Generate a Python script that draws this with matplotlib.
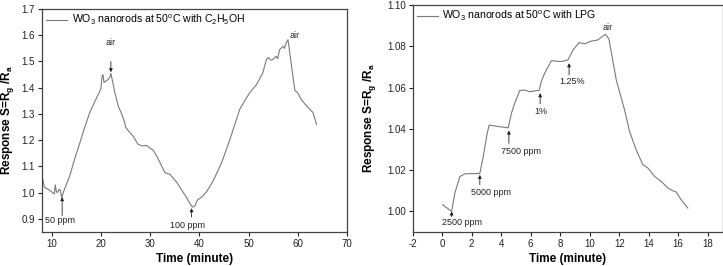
import matplotlib
matplotlib.use("Agg")
import matplotlib.pyplot as plt

plt.rcParams['font.family'] = ['Liberation Sans', 'DejaVu Sans']
plt.rcParams['mathtext.fontset'] = 'custom'
plt.rcParams['mathtext.rm'] = 'Liberation Sans'
plt.rcParams['axes.unicode_minus'] = False

# ---- Left panel: C2H5OH ----
eth_time = [8.0, 8.5, 9.5, 10.5, 10.7, 10.9, 11.1, 11.5, 11.7, 12.0, 12.5, 13.65, 14.5, 15.7, 16.7,
            17.7, 18.8, 19.75, 20.0, 20.2, 20.4, 20.6, 21.4, 21.8, 22.0, 22.4, 22.8, 23.5, 24.2, 24.8,
            25.0, 25.6, 26.5, 27.5, 28.3, 29.2, 30.6, 31.3, 32.0, 33.0, 34.0, 35.4, 36.4, 37.4, 38.0,
            38.6, 39.1, 39.6, 40.6, 41.5, 42.8, 44.5, 45.4, 46.2, 47.2, 48.2, 49.2, 50.2, 51.6, 52.9,
            53.6, 54.0, 54.5, 54.9, 55.6, 55.9, 56.3, 57.0, 57.3, 57.6, 58.0, 58.5, 59.0, 59.4, 60.0,
            60.7, 61.8, 63.1, 63.8]
eth_resp = [1.064, 1.02, 1.01, 0.995, 1.03, 1.005, 1.0, 1.013, 1.01, 0.981, 1.01, 1.064, 1.12, 1.19, 1.25,
            1.305, 1.35, 1.387, 1.40, 1.444, 1.45, 1.42, 1.431, 1.44, 1.455, 1.42, 1.381, 1.33, 1.30, 1.267,
            1.25, 1.235, 1.216, 1.185, 1.178, 1.18, 1.162, 1.14, 1.114, 1.076, 1.07, 1.039, 1.01, 0.981, 0.96,
            0.945, 0.95, 0.972, 0.985, 1.005, 1.045, 1.114, 1.16, 1.203, 1.26, 1.318, 1.35, 1.38, 1.412, 1.457,
            1.507, 1.515, 1.505, 1.507, 1.52, 1.51, 1.545, 1.558, 1.55, 1.57, 1.583, 1.515, 1.444, 1.39, 1.38,
            1.355, 1.33, 1.305, 1.26]
eth_xticks = [10, 20, 30, 40, 50, 60, 70]
eth_yticks = [0.9, 1.0, 1.1, 1.2, 1.3, 1.4, 1.5, 1.6, 1.7]
# (label, text x, text y, arrow tail (x,y), arrow head (x,y))
eth_notes = [("50 ppm", 11.6, 0.895, (12.1, 0.913), (12.1, 0.983)),
             ("air", 21.9, 1.571, (22.0, 1.50), (22.0, 1.459)),
             ("100 ppm", 37.6, 0.875, (38.4, 0.907), (38.4, 0.941)),
             ("air", 59.4, 1.60, None, None)]

# ---- Right panel: LPG ----
lpg_time = [0.03, 0.64, 0.86, 1.2, 1.54, 2.22, 2.55, 2.78, 3.05, 3.18, 3.9, 4.47, 4.7, 4.92, 5.26,
            5.6, 5.94, 6.57, 6.73, 6.95, 7.4, 8.08, 8.53, 8.87, 9.28, 9.66, 10.0, 10.56, 10.9, 11.08,
            11.3, 11.8, 12.36, 12.7, 13.15, 13.6, 13.94, 14.4, 14.85, 15.3, 15.64, 15.86, 16.2, 16.65]
lpg_resp = [1.0032, 1.000, 1.0089, 1.0169, 1.0182, 1.0183, 1.0184, 1.0265, 1.0378, 1.0418, 1.041, 1.0405,
            1.0477, 1.0525, 1.0586, 1.0588, 1.0580, 1.0587, 1.0632, 1.067, 1.073, 1.0726, 1.0734, 1.0782,
            1.0818, 1.0812, 1.0823, 1.0831, 1.085, 1.0858, 1.0835, 1.0637, 1.0492, 1.0387, 1.0298, 1.0226,
            1.021, 1.0169, 1.0145, 1.0113, 1.01, 1.0094, 1.0056, 1.0016]
lpg_xticks = [-2, 0, 2, 4, 6, 8, 10, 12, 14, 16, 18]
lpg_yticks = [1.00, 1.02, 1.04, 1.06, 1.08, 1.10]
lpg_notes = [("2500 ppm", 1.31, 0.9947, (0.64, 0.9975), (0.64, 1.0)),
             ("5000 ppm", 3.34, 1.0092, (2.55, 1.0129), (2.55, 1.0177)),
             ("7500 ppm", 5.31, 1.029, (4.52, 1.033), (4.52, 1.0392)),
             ("1%", 6.66, 1.0484, (6.64, 1.0521), (6.64, 1.0573)),
             ("1.25%", 8.82, 1.0629, (8.6, 1.0661), (8.6, 1.0718)),
             ("air", 11.24, 1.089, None, None)]

W, H = 723, 266
fig = plt.figure(figsize=(W / 100, H / 100), dpi=100)
axL = fig.add_axes([42 / W, 1 - 232 / H, 305 / W, 223 / H])
axR = fig.add_axes([412.7 / W, 1 - 232 / H, 309.8 / W, 227 / H])

line_col = '#7a7a7a'
ylab = r'Response S=R$_\mathdefault{g}$ /R$_\mathdefault{a}$'


def style(ax, xticks, yticks, fmt):
    ax.set_xticks(xticks)
    ax.set_yticks(yticks)
    ax.set_yticklabels([fmt.format(v) for v in yticks])
    ax.tick_params(direction='out', length=3, width=0.8, labelsize=7, pad=2, colors='#222222')
    for s in ax.spines.values():
        s.set_linewidth(0.9)
        s.set_color('#444444')
    ax.set_xlabel('Time (minute)', fontsize=8.5, fontweight='bold')
    ax.set_ylabel(ylab, fontsize=8.5, fontweight='bold')


def notes(ax, items):
    for lab, tx, ty, tail, head in items:
        ax.text(tx, ty, lab, ha='center', va='center', fontsize=6.5, color='#222222')
        if tail is not None:
            ax.annotate('', xy=head, xytext=tail,
                        arrowprops=dict(arrowstyle='-|>', color='#222222', lw=0.6,
                                        mutation_scale=5, shrinkA=0, shrinkB=0))


axL.plot(eth_time, eth_resp, color=line_col, lw=0.8,
         label=r'WO$_\mathdefault{3}$ nanorods at 50$^\mathdefault{o}$C with C$_\mathdefault{2}$H$_\mathdefault{5}$OH')
axL.set_xlim(8, 70)
axL.set_ylim(0.85, 1.7)
style(axL, eth_xticks, eth_yticks, '{:.1f}')
notes(axL, eth_notes)
axL.xaxis.set_label_coords(0.5, -0.094)
axL.yaxis.set_label_coords(-0.084, 0.5)
axL.legend(loc='upper left', frameon=False, fontsize=7.6, handlelength=2.0,
           handletextpad=0.4, borderaxespad=0.2, borderpad=0.2)

axR.plot(lpg_time, lpg_resp, color=line_col, lw=0.8,
         label=r'WO$_\mathdefault{3}$ nanorods at 50$^\mathdefault{o}$C with LPG')
axR.set_xlim(-2, 19)
axR.set_ylim(0.99, 1.10)
style(axR, lpg_xticks, lpg_yticks, '{:.2f}')
notes(axR, lpg_notes)
axR.xaxis.set_label_coords(0.5, -0.092)
axR.yaxis.set_label_coords(-0.111, 0.5)
axR.legend(loc='upper left', frameon=False, fontsize=7.6, handlelength=2.0,
           handletextpad=0.4, borderaxespad=0.2, borderpad=0.2)

fig.savefig('out.png', dpi=100)
